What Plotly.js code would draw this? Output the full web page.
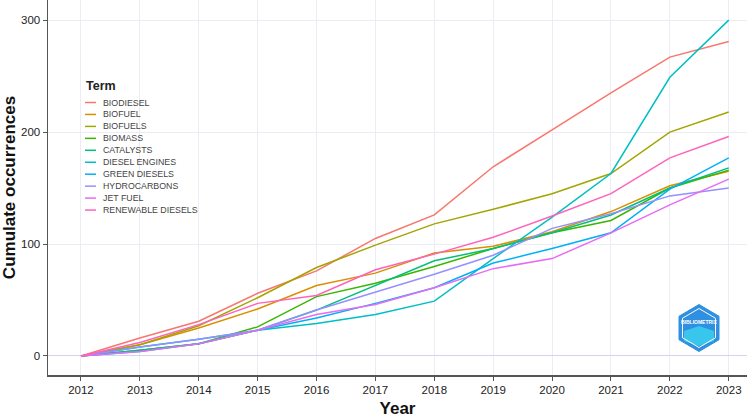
<!DOCTYPE html>
<html>
<head>
<meta charset="utf-8">
<script src="https://cdn.plot.ly/plotly-3.0.1.min.js"></script>
<style>
html,body{margin:0;padding:0;background:#fff;}
#chart{width:747px;height:418px;}
</style>
</head>
<body>
<div id="chart"></div>
<script>
const years = [2012, 2013, 2014, 2015, 2016, 2017, 2018, 2019, 2020, 2021, 2022, 2023];
const terms = ["BIODIESEL", "BIOFUEL", "BIOFUELS", "BIOMASS", "CATALYSTS", "DIESEL ENGINES", "GREEN DIESELS", "HYDROCARBONS", "JET FUEL", "RENEWABLE DIESELS"];
const termColors = ["#F8766D", "#D89000", "#A3A500", "#39B600", "#00BF7D", "#00BFC4", "#00B0F6", "#9590FF", "#E76BF3", "#FF62BC"];

const biodiesel        = [0, 16, 31, 56, 76, 105, 126, 169, 202, 235, 267, 281];
const biofuel          = [0, 10, 25, 42, 63, 74, 92, 98, 111, 129, 152, 165];
const biofuels         = [0, 10, 27, 52, 79, 99, 118, 131, 145, 163, 200, 218];
const biomass          = [0, 5, 11, 26, 53, 65, 80, 96, 110, 121, 150, 166];
const catalysts        = [0, 5, 11, 23, 41, 63, 85, 96, 110, 126, 150, 168];
const dieselEngines    = [0, 4, 11, 23, 29, 37, 49, 87, 124, 163, 249, 300];
const greenDiesels     = [0, 8, 15, 23, 34, 47, 61, 83, 96, 110, 149, 177];
const hydrocarbons     = [0, 8, 15, 23, 41, 57, 73, 90, 114, 127, 143, 150];
const jetFuel          = [0, 4, 11, 23, 37, 46, 61, 78, 87, 110, 135, 158];
const renewableDiesels = [0, 12, 28, 47, 54, 77, 91, 106, 125, 145, 177, 196];

const seriesValues = [biodiesel, biofuel, biofuels, biomass, catalysts, dieselEngines, greenDiesels, hydrocarbons, jetFuel, renewableDiesels];

const traces = terms.map((t, i) => ({
  type: 'scatter', mode: 'lines', name: t,
  x: years, y: seriesValues[i],
  line: {color: termColors[i], width: 1.5},
  showlegend: false, hoverinfo: 'x+y+name'
}));

// plot area geometry (px) for paper conversions
const L = 48, R = 0, T = 0, B = 43, W = 747, H = 418;
const pw = W - L - R, ph = H - T - B;
const px = v => (v - L) / pw;
const py = v => (H - B - v) / ph;

const shapes = [];
const annotations = [];

// custom compact legend
annotations.push({xref: 'paper', yref: 'paper', x: px(84), y: py(86), xanchor: 'left', yanchor: 'middle',
  text: '<b>Term</b>', showarrow: false, font: {family: 'Liberation Sans, Arial, sans-serif', size: 12.5, color: '#222'}});
terms.forEach((t, i) => {
  const yy = 102.5 + i * 11.95;
  shapes.push({type: 'line', xref: 'paper', yref: 'paper', x0: px(85), x1: px(96), y0: py(yy), y1: py(yy),
    line: {color: termColors[i], width: 1.5}});
  annotations.push({xref: 'paper', yref: 'paper', x: px(101), y: py(yy), xanchor: 'left', yanchor: 'middle',
    text: t, showarrow: false, font: {family: 'Liberation Sans, Arial, sans-serif', size: 8.8, color: '#444'}});
});

// bibliometrix-like logo
function hexPath(cx, cy, hw, hh) {
  const pts = [[cx, cy - hh], [cx + hw, cy - hh / 2], [cx + hw, cy + hh / 2], [cx, cy + hh], [cx - hw, cy + hh / 2], [cx - hw, cy - hh / 2]];
  return 'M ' + pts.map(p => px(p[0]) + ',' + py(p[1])).join(' L ') + ' Z';
}
shapes.push({type: 'path', xref: 'paper', yref: 'paper', path: hexPath(699, 328, 20, 23.5), fillcolor: '#2f8fe0', line: {color: '#2f8fe0', width: 1}});
shapes.push({type: 'path', xref: 'paper', yref: 'paper', path: hexPath(699, 336, 15, 10), fillcolor: '#38c6ec', line: {width: 0}});
shapes.push({type: 'path', xref: 'paper', yref: 'paper', path: hexPath(699, 328, 16.5, 19.5), fillcolor: 'rgba(0,0,0,0)', line: {color: '#ffffff', width: 1}});
annotations.push({xref: 'paper', yref: 'paper', x: px(699), y: py(322), xanchor: 'center', yanchor: 'middle',
  text: '<b>BIBLIOMETRIX</b>', showarrow: false, font: {family: 'Liberation Sans, Arial, sans-serif', size: 5, color: '#ffffff'}});

const layout = {
  width: W, height: H,
  margin: {l: L, r: R, t: T, b: B, pad: 0},
  paper_bgcolor: '#ffffff', plot_bgcolor: '#ffffff',
  font: {family: 'Liberation Sans, Arial, sans-serif', color: '#333'},
  xaxis: {
    range: [2011.44, 2023.31], tickmode: 'array', tickvals: years, ticktext: years.map(String),
    showgrid: true, gridcolor: '#ececf4', gridwidth: 1, zeroline: false,
    showline: true, linecolor: '#555', linewidth: 1.5,
    ticks: 'outside', ticklen: 4, tickcolor: '#555', tickfont: {size: 11.5, color: '#222'},
    title: {text: '<b>Year</b>', font: {size: 17, color: '#111'}, standoff: 8}
  },
  yaxis: {
    range: [-17, 318], tickvals: [0, 100, 200, 300],
    showgrid: true, gridcolor: '#ececf4', gridwidth: 1,
    zeroline: true, zerolinecolor: '#d2d2f4', zerolinewidth: 1,
    showline: true, linecolor: '#555', linewidth: 1.5,
    ticks: 'outside', ticklen: 4, tickcolor: '#555', tickfont: {size: 11.5, color: '#222'},
    title: {text: '<b>Cumulate occurrences</b>', font: {size: 17, color: '#111'}, standoff: 6}
  },
  showlegend: false,
  shapes: shapes,
  annotations: annotations
};

Plotly.newPlot('chart', traces, layout, {displayModeBar: false, staticPlot: true});
</script>
</body>
</html>
